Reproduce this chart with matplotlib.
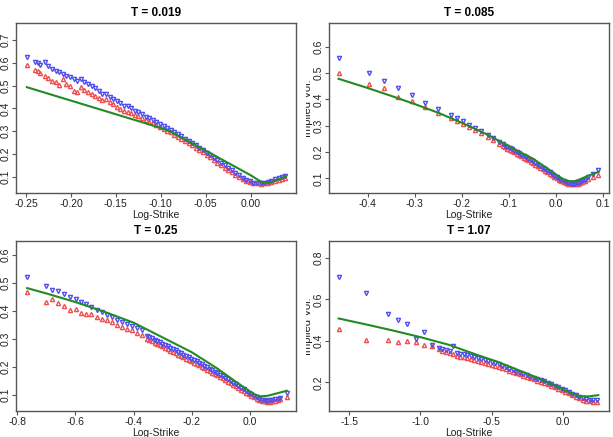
import numpy as np
import matplotlib
matplotlib.use("Agg")
import matplotlib.pyplot as plt
from matplotlib.ticker import FixedLocator, StrMethodFormatter
from matplotlib.transforms import Bbox

plt.rcParams['font.family'] = ['Liberation Sans', 'DejaVu Sans']
plt.rcParams['axes.unicode_minus'] = False

# ---- T = 0.019 ----
k1 = [-0.249, -0.240, -0.237, -0.234, -0.229, -0.225, -0.221, -0.217, -0.213, -0.209,
      -0.205, -0.201, -0.197, -0.193, -0.189, -0.185, -0.181, -0.177, -0.173, -0.169,
      -0.165, -0.161, -0.157, -0.153, -0.149, -0.145, -0.141, -0.137, -0.133, -0.129,
      -0.125, -0.121, -0.117, -0.113, -0.109, -0.105, -0.101, -0.097, -0.093, -0.089,
      -0.085, -0.081, -0.077, -0.073, -0.069, -0.065, -0.061, -0.057, -0.053, -0.049,
      -0.045, -0.041, -0.037, -0.033, -0.029, -0.025, -0.021, -0.017, -0.013, -0.009,
      -0.005, -0.001, 0.003, 0.007, 0.011, 0.015, 0.019, 0.023, 0.027, 0.031,
      0.035, 0.038]
ask1 = [0.626, 0.603, 0.598, 0.592, 0.604, 0.585, 0.575, 0.566, 0.558, 0.549,
        0.541, 0.536, 0.528, 0.522, 0.531, 0.517, 0.508, 0.498, 0.489, 0.478,
        0.462, 0.462, 0.451, 0.442, 0.432, 0.423, 0.412, 0.410, 0.401, 0.390,
        0.382, 0.373, 0.364, 0.356, 0.347, 0.339, 0.330, 0.322, 0.313, 0.304,
        0.295, 0.286, 0.277, 0.267, 0.257, 0.247, 0.237, 0.226, 0.216, 0.205,
        0.194, 0.183, 0.172, 0.161, 0.150, 0.139, 0.128, 0.117, 0.106, 0.096,
        0.087, 0.079, 0.074, 0.071, 0.071, 0.073, 0.077, 0.082, 0.088, 0.094,
        0.100, 0.104]
bid1 = [0.590, 0.568, 0.562, 0.557, 0.543, 0.535, 0.522, 0.515, 0.503, 0.531,
        0.508, 0.497, 0.478, 0.470, 0.492, 0.480, 0.472, 0.464, 0.455, 0.445,
        0.437, 0.442, 0.430, 0.418, 0.408, 0.396, 0.388, 0.385, 0.378, 0.372,
        0.365, 0.358, 0.350, 0.342, 0.334, 0.326, 0.318, 0.310, 0.302, 0.294,
        0.285, 0.276, 0.267, 0.257, 0.247, 0.237, 0.227, 0.216, 0.206, 0.195,
        0.184, 0.173, 0.162, 0.151, 0.140, 0.129, 0.119, 0.108, 0.098, 0.089,
        0.082, 0.076, 0.072, 0.070, 0.069, 0.070, 0.072, 0.075, 0.079, 0.084,
        0.089, 0.094]
fitk1 = [-0.249, -0.22, -0.19, -0.16, -0.13, -0.10, -0.09, -0.075, -0.05, -0.025,
         0.0, 0.008, 0.013, 0.018, 0.025, 0.032, 0.039]
fit1 = [0.493, 0.458, 0.422, 0.386, 0.350, 0.314, 0.299, 0.268, 0.214, 0.160,
        0.106, 0.086, 0.075, 0.073, 0.079, 0.090, 0.102]

# ---- T = 0.085 ----
k2 = [-0.462, -0.397, -0.365, -0.336, -0.306, -0.278, -0.250, -0.223, -0.209, -0.198,
      -0.184, -0.171, -0.159, -0.145, -0.134, -0.121,
      -0.113, -0.108, -0.103, -0.098, -0.093, -0.088, -0.083, -0.078, -0.073, -0.068,
      -0.063, -0.058, -0.053, -0.048, -0.043, -0.038, -0.033, -0.028, -0.023, -0.018,
      -0.013, -0.008, -0.003, 0.002, 0.007, 0.012, 0.017, 0.022, 0.027, 0.032,
      0.037, 0.042, 0.047, 0.052, 0.057, 0.062, 0.069, 0.080, 0.091]
ask2 = [0.558, 0.499, 0.471, 0.442, 0.415, 0.385, 0.365, 0.339, 0.328, 0.316,
        0.303, 0.292, 0.280, 0.266, 0.252, 0.239,
        0.229, 0.224, 0.219, 0.214, 0.210, 0.205, 0.200, 0.195, 0.190, 0.185,
        0.180, 0.175, 0.169, 0.164, 0.158, 0.152, 0.146, 0.140, 0.134, 0.128,
        0.122, 0.116, 0.110, 0.104, 0.098, 0.093, 0.088, 0.084, 0.081, 0.079,
        0.079, 0.080, 0.082, 0.085, 0.089, 0.093, 0.103, 0.116, 0.130]
bid2 = [0.499, 0.458, 0.442, 0.410, 0.395, 0.372, 0.349, 0.328, 0.319, 0.306,
        0.294, 0.284, 0.273, 0.258, 0.246, 0.230,
        0.222, 0.217, 0.212, 0.207, 0.203, 0.198, 0.193, 0.188, 0.183, 0.178,
        0.173, 0.168, 0.162, 0.157, 0.151, 0.145, 0.140, 0.134, 0.128, 0.122,
        0.116, 0.111, 0.105, 0.100, 0.094, 0.089, 0.085, 0.081, 0.078, 0.077,
        0.077, 0.078, 0.080, 0.082, 0.085, 0.089, 0.096, 0.106, 0.113]
fitk2 = [-0.462, -0.40, -0.35, -0.30, -0.25, -0.20, -0.15, -0.115, -0.08, -0.05,
         -0.035, -0.02, 0.0, 0.015, 0.027, 0.04, 0.05, 0.07, 0.091]
fit2 = [0.478, 0.443, 0.413, 0.382, 0.349, 0.311, 0.270, 0.237, 0.203, 0.176,
        0.158, 0.140, 0.115, 0.097, 0.089, 0.089, 0.095, 0.110, 0.124]

# ---- T = 0.25 ----
k3 = [-0.766, -0.701, -0.680, -0.659, -0.640, -0.619, -0.598, -0.581, -0.564, -0.546,
      -0.527, -0.510, -0.493, -0.476, -0.459, -0.441, -0.424, -0.407, -0.390, -0.373,
      -0.355, -0.346, -0.337, -0.328, -0.319, -0.310, -0.301, -0.292, -0.283, -0.274,
      -0.265, -0.256, -0.247, -0.238, -0.229, -0.220, -0.211, -0.202, -0.193, -0.184,
      -0.175, -0.166, -0.157, -0.148, -0.139, -0.130, -0.121, -0.112, -0.103, -0.094,
      -0.085, -0.076, -0.067, -0.058, -0.049, -0.040, -0.031, -0.022, -0.013, -0.004,
      0.005, 0.014, 0.023, 0.032, 0.041, 0.050, 0.059, 0.068, 0.077, 0.086,
      0.095, 0.104, 0.128]
ask3 = [0.523, 0.491, 0.477, 0.471, 0.461, 0.452, 0.442, 0.433, 0.425, 0.413,
        0.405, 0.395, 0.387, 0.379, 0.369, 0.361, 0.354, 0.345, 0.338, 0.331,
        0.312, 0.307, 0.302, 0.297, 0.292, 0.288, 0.283, 0.278, 0.273, 0.268,
        0.263, 0.259, 0.254, 0.249, 0.244, 0.239, 0.234, 0.229, 0.224, 0.219,
        0.214, 0.209, 0.204, 0.199, 0.193, 0.188, 0.183, 0.178, 0.172, 0.167,
        0.161, 0.155, 0.149, 0.143, 0.137, 0.131, 0.125, 0.119, 0.113, 0.107,
        0.101, 0.095, 0.090, 0.085, 0.082, 0.080, 0.079, 0.080, 0.081, 0.083,
        0.085, 0.088, 0.105]
bid3 = [0.468, 0.431, 0.443, 0.429, 0.417, 0.404, 0.407, 0.393, 0.391, 0.389,
        0.378, 0.373, 0.367, 0.361, 0.351, 0.344, 0.336, 0.331, 0.321, 0.315,
        0.301, 0.297, 0.292, 0.287, 0.282, 0.278, 0.273, 0.268, 0.263, 0.258,
        0.253, 0.249, 0.244, 0.239, 0.234, 0.229, 0.224, 0.219, 0.215, 0.210,
        0.205, 0.200, 0.195, 0.190, 0.184, 0.179, 0.174, 0.169, 0.164, 0.159,
        0.153, 0.147, 0.141, 0.136, 0.130, 0.124, 0.118, 0.113, 0.107, 0.101,
        0.096, 0.090, 0.086, 0.081, 0.078, 0.076, 0.075, 0.075, 0.076, 0.078,
        0.080, 0.083, 0.091]
fitk3 = [-0.766, -0.70, -0.60, -0.50, -0.40, -0.30, -0.20, -0.114, -0.05, 0.0,
         0.02, 0.035, 0.06, 0.09, 0.126]
fit3 = [0.482, 0.463, 0.432, 0.397, 0.358, 0.305, 0.252, 0.195, 0.147, 0.111,
        0.099, 0.094, 0.096, 0.104, 0.114]

# ---- T = 1.07 ----
k4 = [-1.572, -1.385, -1.228, -1.158, -1.094, -1.033, -0.975, -0.920,
      -0.869, -0.845, -0.820, -0.795, -0.771, -0.746, -0.721, -0.697, -0.672, -0.647,
      -0.623, -0.598, -0.573, -0.549, -0.524, -0.499, -0.475, -0.450, -0.425, -0.401,
      -0.376, -0.351, -0.327, -0.302, -0.277, -0.253, -0.228, -0.203, -0.179, -0.154,
      -0.129, -0.105, -0.080, -0.055, -0.031, -0.006, 0.019, 0.043, 0.068, 0.093,
      0.117, 0.142, 0.167, 0.191, 0.216, 0.241]
ask4 = [0.710, 0.630, 0.528, 0.501, 0.479, 0.407, 0.441, 0.380,
        0.367, 0.362, 0.357, 0.353, 0.374, 0.343, 0.339, 0.335, 0.331, 0.327,
        0.322, 0.318, 0.314, 0.309, 0.304, 0.298, 0.292, 0.286, 0.279, 0.273,
        0.266, 0.259, 0.252, 0.246, 0.240, 0.234, 0.228, 0.222, 0.216, 0.210,
        0.204, 0.197, 0.190, 0.183, 0.176, 0.169, 0.161, 0.153, 0.145, 0.137,
        0.129, 0.122, 0.118, 0.116, 0.115, 0.116]
bid4 = [0.455, 0.404, 0.404, 0.393, 0.398, 0.396, 0.381, 0.376,
        0.359, 0.352, 0.347, 0.343, 0.335, 0.328, 0.324, 0.320, 0.316, 0.311,
        0.307, 0.302, 0.298, 0.294, 0.289, 0.284, 0.279, 0.273, 0.268, 0.262,
        0.256, 0.250, 0.244, 0.238, 0.232, 0.226, 0.220, 0.214, 0.208, 0.202,
        0.196, 0.190, 0.183, 0.177, 0.170, 0.163, 0.155, 0.147, 0.139, 0.131,
        0.123, 0.116, 0.111, 0.108, 0.106, 0.106]
fitk4 = [-1.575, -1.40, -1.20, -1.00, -0.80, -0.60, -0.45, -0.323, -0.20, -0.0886,
         0.0, 0.06, 0.122, 0.18, 0.251]
fit4 = [0.508, 0.482, 0.451, 0.418, 0.381, 0.332, 0.297, 0.262, 0.228, 0.195,
        0.167, 0.148, 0.133, 0.132, 0.138]

titles = ["T = 0.019", "T = 0.085", "T = 0.25", "T = 1.07"]
W, H = 613, 437
fig = plt.figure(figsize=(W / 100, H / 100), dpi=100)

# axes boxes in pixels: left, top, right, bottom
boxes = [(16, 23, 296, 193), (329, 23, 609, 193), (16, 241, 296, 411), (329, 241, 609, 411)]
xlims = [(-0.2611, 0.0504), (-0.4823, 0.1134), (-0.8045, 0.158), (-1.643, 0.326)]
ylims = [(0.028, 0.775), (0.044, 0.690), (0.0415, 0.651), (0.0615, 0.882)]
xticks = [[-0.25, -0.20, -0.15, -0.10, -0.05, 0.00], [-0.4, -0.3, -0.2, -0.1, 0.0, 0.1],
          [-0.8, -0.6, -0.4, -0.2, 0.0], [-1.5, -1.0, -0.5, 0.0]]
yticks = [[0.1, 0.2, 0.3, 0.4, 0.5, 0.6, 0.7], [0.1, 0.2, 0.3, 0.4, 0.5, 0.6],
          [0.1, 0.2, 0.3, 0.4, 0.5, 0.6], [0.2, 0.4, 0.6, 0.8]]
xfmt = ['{x:.2f}', '{x:.1f}', '{x:.1f}', '{x:.1f}']

data = [(k1, bid1, ask1, fitk1, fit1), (k2, bid2, ask2, fitk2, fit2),
        (k3, bid3, ask3, fitk3, fit3), (k4, bid4, ask4, fitk4, fit4)]

red = '#f05050'
blue = '#5050f0'
green = '#228b22'
frame = '#555555'

for i in range(4):
    l, t, r, b = boxes[i]
    ax = fig.add_axes([l / W, 1 - b / H, (r - l) / W, (b - t) / H])
    k, bid, ask, fk, fv = data[i]
    ax.plot(k, bid, linestyle='none', marker='^', ms=3.0, mfc='none', mec=red, mew=1.0)
    ax.plot(k, ask, linestyle='none', marker='v', ms=3.0, mfc='none', mec=blue, mew=1.0)
    ax.plot(fk, fv, color=green, lw=1.5)
    ax.set_xlim(xlims[i])
    ax.set_ylim(ylims[i])
    ax.xaxis.set_major_locator(FixedLocator(xticks[i]))
    ax.yaxis.set_major_locator(FixedLocator(yticks[i]))
    ax.xaxis.set_major_formatter(StrMethodFormatter(xfmt[i]))
    ax.yaxis.set_major_formatter(StrMethodFormatter('{x:.1f}'))
    ax.tick_params(direction='out', length=3.2, width=0.8, color=frame, labelsize=7.5,
                   labelcolor='#222222')
    ax.tick_params(axis='x', pad=1)
    ax.tick_params(axis='y', labelrotation=90, pad=4)
    for lab in ax.get_yticklabels():
        lab.set_va('center')
        lab.set_ha('center')
    for s in ax.spines.values():
        s.set_color(frame)
        s.set_linewidth(1.0)
    ax.set_title(titles[i], fontsize=8.5, fontweight='bold', pad=5)
    ax.set_xlabel("Log-Strike", fontsize=7.5, labelpad=0.5, color='#222222')
    if i % 2 == 1:
        yc = (t + b) / 2
        txt = fig.text(308 / W, 1 - yc / H, "Implied Vol.", rotation=90, fontsize=8,
                       ha='center', va='center', color='#222222')
        txt.set_clip_box(Bbox.from_extents(306, 0, W, H))
        txt.set_clip_on(True)

fig.savefig("out.png", dpi=100)
